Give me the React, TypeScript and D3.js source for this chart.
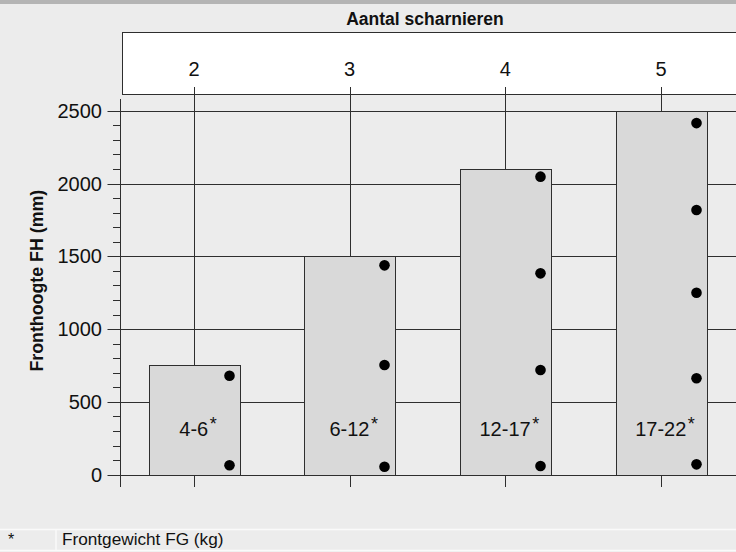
import React from "react";
import * as d3 from "d3";

const categories = ["2", "3", "4", "5"];
const frontHeights = [750, 1500, 2100, 2500];
const weightLabels = ["4-6", "6-12", "12-17", "17-22"];
const hingePositions2 = [65, 680];
const hingePositions3 = [55, 753, 1438];
const hingePositions4 = [60, 719, 1383, 2047];
const hingePositions5 = [71, 662, 1250, 1818, 2415];
const hingeSets = [hingePositions2, hingePositions3, hingePositions4, hingePositions5];
const yTicks = [0, 500, 1000, 1500, 2000, 2500];
const titleText = "Aantal scharnieren";
const yLabelText = "Fronthoogte FH (mm)";
const footnoteText = "Frontgewicht FG (kg)";

const W = 736;
const H = 552;
const FONT = "'Liberation Sans', Arial, Helvetica, sans-serif";

export default function App() {
  const y = d3.scaleLinear().domain([0, 2500]).range([474.7, 110.7]);
  const x = d3.scalePoint<string>().domain(categories).range([194, 661]);
  const barW = 91;
  const minorTicks = d3.range(0, 2501, 100).filter((v) => v % 500 !== 0);
  const axisX = 120;
  const boxTop = 32.5;
  const boxBottom = 94.5;
  const stroke = "#2e2e2e";

  return (
    <svg
      width={W}
      height={H}
      viewBox={`0 0 ${W} ${H}`}
      style={{ position: "absolute", left: 0, top: 0, fontFamily: FONT }}
    >
      <rect x={0} y={0} width={W} height={H} fill="#ececec" />
      <rect x={0} y={0} width={W} height={4} fill="#b4b4b4" />

      {/* title */}
      <text x={425} y={25} textAnchor="middle" fontSize={17.5} fontWeight="bold" fill="#111">
        {titleText}
      </text>

      {/* category header box */}
      <rect x={122.5} y={boxTop} width={W} height={boxBottom - boxTop} fill="#fff" stroke={stroke} strokeWidth={1} />
      {categories.map((c) => (
        <text key={c} x={x(c)} y={76} textAnchor="middle" fontSize={20} fill="#111">
          {c}
        </text>
      ))}

      {/* horizontal grid lines at major ticks */}
      {yTicks.map((t) => (
        <line key={t} x1={107.5} x2={W} y1={Math.round(y(t)) + 0.5} y2={Math.round(y(t)) + 0.5} stroke={stroke} strokeWidth={1} />
      ))}
      {/* vertical category lines */}
      {categories.map((c) => (
        <line key={c} x1={Math.round(x(c)!) + 0.5} x2={Math.round(x(c)!) + 0.5} y1={87} y2={487} stroke={stroke} strokeWidth={1} />
      ))}

      {/* y axis */}
      <line x1={axisX + 0.5} x2={axisX + 0.5} y1={99} y2={487} stroke={stroke} strokeWidth={1} />
      {minorTicks.map((t) => (
        <line key={t} x1={113} x2={axisX} y1={Math.round(y(t)) + 0.5} y2={Math.round(y(t)) + 0.5} stroke={stroke} strokeWidth={1} />
      ))}
      {yTicks.map((t) => (
        <text key={t} x={102} y={y(t) + 7} textAnchor="end" fontSize={20} fill="#111">
          {t}
        </text>
      ))}
      <text
        transform={`translate(42.5, ${(y(0) + y(2500)) / 2 - 12}) rotate(-90)`}
        textAnchor="middle"
        fontSize={17.8}
        fontWeight="bold"
        fill="#111"
      >
        {yLabelText}
      </text>

      {/* bars */}
      {categories.map((c, i) => {
        const cx = x(c)!;
        const left = Math.round(cx - barW / 2) + 0.5;
        const top = Math.round(y(frontHeights[i])) + 0.5;
        return (
          <g key={c}>
            <rect
              x={left}
              y={top}
              width={barW}
              height={Math.round(y(0)) + 0.5 - top}
              fill="#d9d9d9"
              stroke={stroke}
              strokeWidth={1}
            />
            {hingeSets[i].map((v, j) => (
              <circle key={j} cx={left + barW - 11} cy={y(v)} r={5.3} fill="#000" />
            ))}
            <text x={cx + 4} y={y(0) - 38.5} textAnchor="middle" fontSize={20} fill="#111">
              {weightLabels[i]}
              <tspan fontSize={18} dx={1.5} dy={-6}>*</tspan>
            </text>
          </g>
        );
      })}

      {/* footnote */}
      <line x1={0} x2={W} y1={529.5} y2={529.5} stroke="#fafafa" strokeWidth={1.5} />
      <line x1={0} x2={W} y1={550.5} y2={550.5} stroke="#fafafa" strokeWidth={1.5} />
      <line x1={56} x2={56} y1={529.5} y2={550.5} stroke="#fafafa" strokeWidth={1.5} />
      <text x={8} y={545} fontSize={16} fill="#111">*</text>
      <text x={62} y={545} fontSize={17.2} fill="#111">
        {footnoteText}
      </text>
    </svg>
  );
}
